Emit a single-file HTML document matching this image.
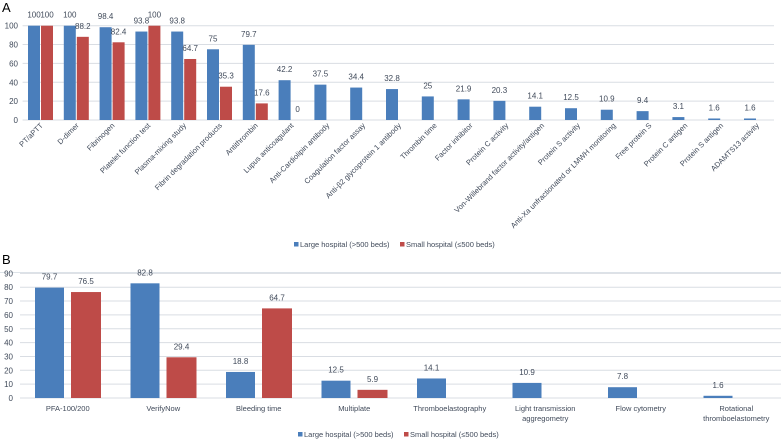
<!DOCTYPE html>
<html><head><meta charset="utf-8"><style>
body{margin:0;background:#fff;}
svg{display:block;font-family:"Liberation Sans",sans-serif;}
</style></head><body>
<svg id="chart" width="781" height="446" viewBox="0 0 781 446"></svg>
<script>
const catsA=["PT/aPTT","D-dimer","Fibrinogen","Platelet function test","Plasma-mixing study","Fibrin degradation products","Antithrombin","Lupus anticoagulant","Anti-Cardiolipin antibody","Coagulation factor assay","Anti-β2 glycoprotein 1 antibody","Thrombin time","Factor inhibitor","Protein C activity","Von-Willebrand factor activity/antigen","Protein S activity","Anti-Xa unfractionated or LMWH monitoring","Free protein S","Protein C antigen","Protein S antigen","ADAMTS13 activity"];
const largeA=[100,100,98.4,93.8,93.8,75,79.7,42.2,37.5,34.4,32.8,25,21.9,20.3,14.1,12.5,10.9,9.4,3.1,1.6,1.6];
const smallA=[100,88.2,82.4,100,64.7,35.3,17.6,0,null,null,null,null,null,null,null,null,null,null,null,null,null];
const ticksA=[0,20,40,60,80,100];
const catsB=[["PFA-100/200"],["VerifyNow"],["Bleeding time"],["Multiplate"],["Thromboelastography"],["Light transmission","aggregometry"],["Flow cytometry"],["Rotational","thromboelastometry"]];
const largeB=[79.7,82.8,18.8,12.5,14.1,10.9,7.8,1.6];
const smallB=[76.5,29.4,64.7,5.9,null,null,null,null];
const ticksB=[0,10,20,30,40,50,60,70,80,90];

const svg=document.getElementById('chart');
const NS='http://www.w3.org/2000/svg';
function mk(tag,attrs,parent){const e=document.createElementNS(NS,tag);for(const k in attrs)e.setAttribute(k,attrs[k]);(parent||svg).appendChild(e);return e;}
const BLUE='#4a7ebb',RED='#be4b48',TXT='#404a5a',GRID='#d9dde3';

// Panel A
const yA=v=>120-v*0.943;
const x0A=22.6,stepA=35.8;
const xA=i=>x0A+i*stepA;
let t=mk('text',{x:2,y:12,'font-size':13,fill:'#000'});
t.textContent='A';
ticksA.forEach(v=>{
  const l=mk('line',{x1:x0A,x2:774,y1:yA(v),y2:yA(v),stroke:GRID,'stroke-width':1});
  
  const tx=mk('text',{x:18,y:yA(v)+3,'font-size':8,'text-anchor':'end',fill:TXT});
  tx.textContent=v;
});
catsA.forEach((c,i)=>{
  const bx=xA(i)+5.4;
  const b=mk('rect',{x:bx,y:yA(largeA[i]),width:12,height:120-yA(largeA[i]),fill:BLUE});
  
  const lb=mk('text',{x:bx+6,y:yA(largeA[i])-8,'font-size':8,'text-anchor':'middle',fill:TXT});
  lb.textContent=largeA[i];
  if(smallA[i]!==null){
    const r=mk('rect',{x:bx+13,y:yA(smallA[i]),width:12,height:120-yA(smallA[i]),fill:RED});
    
    const ls=mk('text',{x:bx+19,y:yA(smallA[i])-8,'font-size':8,'text-anchor':'middle',fill:TXT});
    ls.textContent=smallA[i];
  }
  const cx=xA(i)+stepA/2+3,cy=126;
  const cl=mk('text',{x:cx,y:cy,'font-size':7.5,'text-anchor':'end',fill:TXT,transform:`rotate(-45 ${cx} ${cy})`});
  cl.textContent=c;
});
function legend(x,y,name){
  const s1=mk('rect',{x:x,y:y-5,width:4.5,height:4.5,fill:BLUE});
  const t1=mk('text',{x:x+6,y:y,'font-size':7.5,fill:TXT});t1.textContent='Large hospital (>500 beds)';
  const s2=mk('rect',{x:x+106,y:y-5,width:4.5,height:4.5,fill:RED});
  const t2=mk('text',{x:x+112,y:y,'font-size':7.5,fill:TXT});t2.textContent='Small hospital (≤500 beds)';
}
legend(294,247,'a-legend');
const sep=mk('line',{x1:0,x2:781,y1:272.5,y2:272.5,stroke:'#dde3e8','stroke-width':1});


// Panel B
const yB=v=>398-v*1.385;
const x0B=20,stepB=95.5;
const xB=i=>x0B+i*stepB;
t=mk('text',{x:2,y:264,'font-size':13,fill:'#000'});
t.textContent='B';
ticksB.forEach(v=>{
  const l=mk('line',{x1:x0B,x2:781,y1:yB(v),y2:yB(v),stroke:GRID,'stroke-width':1});
  
  const tx=mk('text',{x:13,y:yB(v)+3,'font-size':8,'text-anchor':'end',fill:TXT});
  tx.textContent=v;
});
catsB.forEach((c,i)=>{
  const bx=xB(i)+15;
  const b=mk('rect',{x:bx,y:yB(largeB[i]),width:29,height:398-yB(largeB[i]),fill:BLUE});
  
  const lb=mk('text',{x:bx+14.5,y:yB(largeB[i])-8,'font-size':8,'text-anchor':'middle',fill:TXT});
  lb.textContent=largeB[i];
  if(smallB[i]!==null){
    const r=mk('rect',{x:bx+36,y:yB(smallB[i]),width:30,height:398-yB(smallB[i]),fill:RED});
    
    const ls=mk('text',{x:bx+51,y:yB(smallB[i])-8,'font-size':8,'text-anchor':'middle',fill:TXT});
    ls.textContent=smallB[i];
  }
  c.forEach((line,k)=>{
    const cl=mk('text',{x:xB(i)+stepB/2,y:411+k*10,'font-size':7.5,'text-anchor':'middle',fill:TXT});
    cl.textContent=line;
  });
});
legend(298,437,'b-legend');
</script>
</body></html>
